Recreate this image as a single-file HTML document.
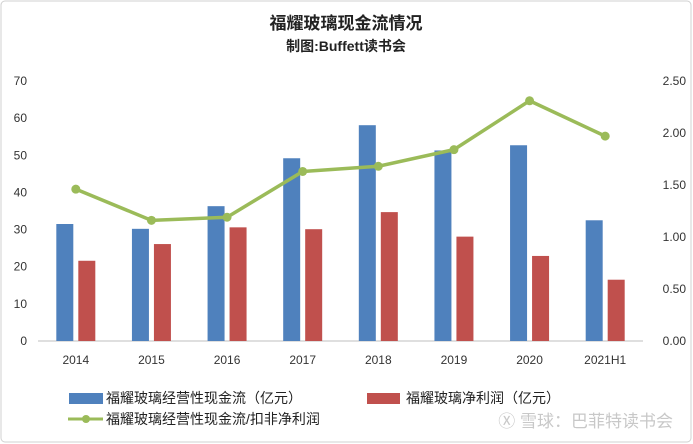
<!DOCTYPE html>
<html><head><meta charset="utf-8"><style>
body{margin:0;background:#fff;}
svg{display:block;font-family:"Liberation Sans","Noto Sans CJK SC",sans-serif;}
</style></head><body>
<svg id="chart" width="693" height="444">
<rect x="1" y="1" width="690" height="441" rx="4" fill="#fff" stroke="#d0d0d0"/>
<text x="346" y="29" text-anchor="middle" font-size="17" font-weight="bold" fill="#222">福耀玻璃现金流情况</text>
<text x="346" y="51" text-anchor="middle" font-size="14" font-weight="bold" fill="#222">制图:Buffett读书会</text>
<g id="plot"></g>
<g>
<rect x="69" y="393" width="34" height="11" fill="#4f81bd"/>
<text x="106" y="403" font-size="14" fill="#222">福耀玻璃经营性现金流（亿元）</text>
<rect x="367" y="393" width="33" height="11" fill="#c0504d"/>
<text x="406" y="403" font-size="14" fill="#222">福耀玻璃净利润（亿元）</text>
<line x1="68" y1="419" x2="103" y2="419" stroke="#9bbb59" stroke-width="3"/>
<circle cx="86" cy="419" r="4" fill="#9bbb59"/>
<text x="106" y="424" font-size="14" fill="#222">福耀玻璃经营性现金流/扣非净利润</text>
</g>
<text x="673" y="427" text-anchor="end" font-size="17" fill="#c8c8c8">Ⓧ 雪球：巴菲特读书会</text>
</svg>
<script>
const categories=["2014","2015","2016","2017","2018","2019","2020","2021H1"];
const cashFlow=[31.5,30.2,36.3,49.2,58.1,51.3,52.7,32.5];
const netProfit=[21.6,26.1,30.6,30.1,34.7,28.1,22.9,16.5];
const ratio=[1.46,1.16,1.19,1.63,1.68,1.84,2.31,1.97];
const leftTicks=[0,10,20,30,40,50,60,70];
const rightTicks=["0.00","0.50","1.00","1.50","2.00","2.50"];
const ns="http://www.w3.org/2000/svg";
const g=document.getElementById("plot");
const X0=38,X1=643,Y0=341,Y1=81;
const band=(X1-X0)/categories.length;
const yL=v=>Y0-(v/70)*(Y0-Y1);
const yR=v=>Y0-(v/2.5)*(Y0-Y1);
const xc=i=>X0+band*(i+0.5);
function mk(t,a){const e=document.createElementNS(ns,t);for(const k in a)e.setAttribute(k,a[k]);g.appendChild(e);return e;}
leftTicks.forEach(v=>{const t=mk("text",{x:27,y:yL(v)+4,"text-anchor":"end","font-size":12,fill:"#333"});t.textContent=v;

});
rightTicks.forEach(v=>{const t=mk("text",{x:686,y:yR(parseFloat(v))+4,"text-anchor":"end","font-size":12,fill:"#333"});t.textContent=v;

});
const ax=mk("line",{x1:X0,y1:Y0,x2:X1,y2:Y0,stroke:"#bfbfbf"});


const bw=17;
categories.forEach((c,i)=>{
 const b=mk("rect",{x:xc(i)-bw-2.5,y:yL(cashFlow[i]),width:bw,height:Y0-yL(cashFlow[i]),fill:"#4f81bd"});
 
 
 const r=mk("rect",{x:xc(i)+2.5,y:yL(netProfit[i]),width:bw,height:Y0-yL(netProfit[i]),fill:"#c0504d"});
 
 
 const t=mk("text",{x:xc(i),y:364,"text-anchor":"middle","font-size":12,fill:"#333"});t.textContent=c;
 
 
});
const pl=mk("polyline",{points:ratio.map((v,i)=>xc(i)+","+yR(v)).join(" "),fill:"none",stroke:"#9bbb59","stroke-width":3.5,"stroke-linejoin":"round"});


ratio.forEach((v,i)=>{const p=mk("circle",{cx:xc(i),cy:yR(v),r:4.5,fill:"#9bbb59"});

});
</script>
</body></html>
